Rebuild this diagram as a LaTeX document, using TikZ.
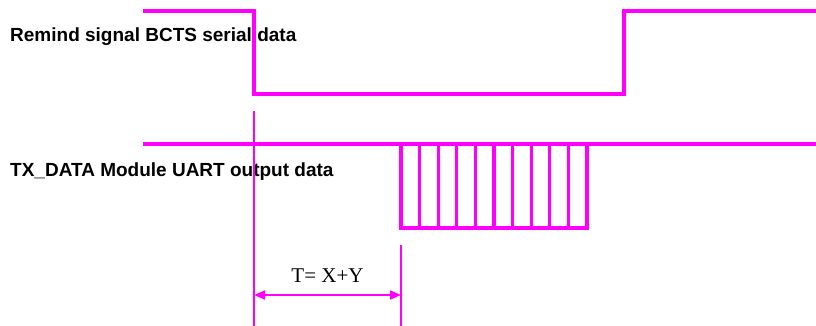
\documentclass[tikz,border=0pt]{standalone}
\usepackage{fontspec}
\setmainfont{Liberation Serif}
\setsansfont{Liberation Sans}
\usetikzlibrary{arrows.meta}

\definecolor{sigmag}{RGB}{255,0,255}
\tikzset{
  sig/.style={sigmag, line width=3.2pt},
  guide/.style={sigmag, line width=1.6pt},
  lbl/.style={anchor=base west, inner sep=0pt, font=\sffamily\bfseries\fontsize{19}{22}\selectfont}
}

\begin{document}
\begin{tikzpicture}[x=1pt,y=-1pt]
\useasboundingbox (0,0) rectangle (816,326);
% labels
\node[lbl] (bcts) at (10,41.7) {Remind signal BCTS serial data};
\node[lbl] (txd) at (10,176) {TX\_DATA Module UART output data};
% BCTS signal
\coordinate (b0) at (143,11);
\coordinate (bfall) at (254,11);
\coordinate (brise) at (624,11);
\coordinate (b1) at (816,11);
\draw[sig] (b0) -- (bfall) |- (624,94) -- (brise) -- (b1);
% TX data line and bits
\coordinate (t0) at (143,144);
\coordinate (t1) at (816,144);
\draw[sig] (t0) -- (t1);
\draw[sig] (401,144) -- (401,228) -- (587,228) -- (587,144);
\foreach \i in {1,...,9}
  \draw[sig] ({401+\i*18.6},144) -- ({401+\i*18.6},228);
% timing guides
\coordinate (g0) at (254,111);
\coordinate (g1) at (254,326);
\coordinate (h0) at (401,245);
\coordinate (h1) at (401,326);
\draw[guide] (g0) -- (g1);
\draw[guide] (h0) -- (h1);
\draw[guide, {Triangle[length=11pt,width=9pt]}-{Triangle[length=11pt,width=9pt]}] (254,295) -- node[above=8pt, text=black, font=\fontsize{21}{24}\selectfont] (tlbl) {T= X+Y} (401,295);
\end{tikzpicture}
\end{document}
